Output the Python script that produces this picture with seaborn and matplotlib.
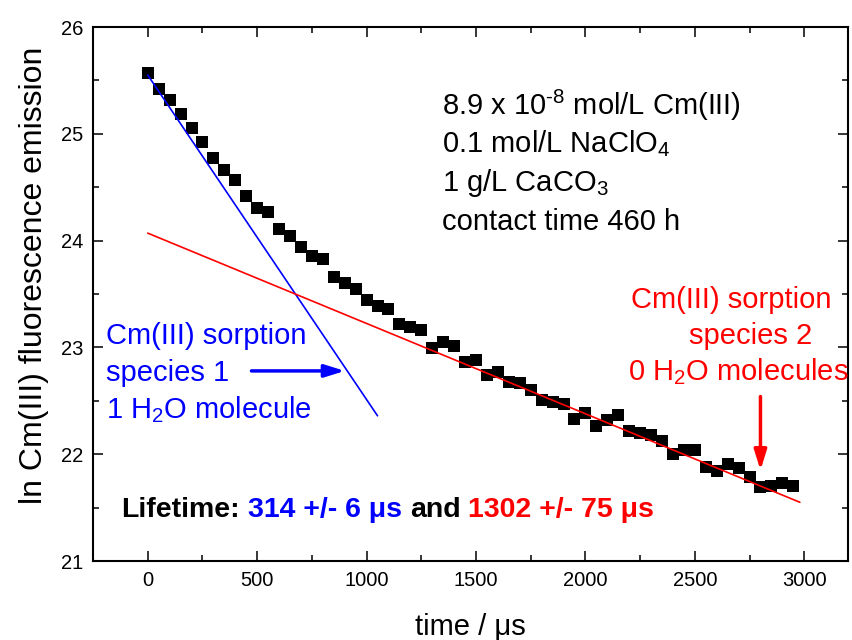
import matplotlib
matplotlib.use("Agg")
import matplotlib.pyplot as plt
import matplotlib.transforms as mtransforms
from matplotlib.ticker import MultipleLocator
import seaborn as sns

# measured decay (time in microseconds, ln of emission intensity)
time_us = [0, 50, 100, 150, 200, 250, 300, 350, 400, 450,
           500, 550, 600, 650, 700, 750, 800, 850, 900, 950,
           1000, 1050, 1100, 1150, 1200, 1250, 1300, 1350, 1400, 1450,
           1500, 1550, 1600, 1650, 1700, 1750, 1800, 1850, 1900, 1950,
           2000, 2050, 2100, 2150, 2200, 2250, 2300, 2350, 2400, 2450,
           2500, 2550, 2600, 2650, 2700, 2750, 2800, 2850, 2900, 2950]
ln_emission = [25.57, 25.42, 25.32, 25.19, 25.05, 24.92, 24.77, 24.66, 24.57, 24.42,
               24.31, 24.27, 24.11, 24.04, 23.94, 23.86, 23.83, 23.66, 23.60, 23.55,
               23.44, 23.39, 23.36, 23.22, 23.19, 23.16, 22.99, 23.05, 23.01, 22.86,
               22.88, 22.74, 22.77, 22.68, 22.67, 22.60, 22.51, 22.49, 22.47, 22.33,
               22.39, 22.26, 22.32, 22.37, 22.22, 22.20, 22.18, 22.12, 22.00, 22.04,
               22.04, 21.88, 21.84, 21.91, 21.87, 21.79, 21.69, 21.70, 21.73, 21.70]

# the two fitted lifetimes
fit1_time = [0, 1050]
fit1_ln = [25.55, 22.36]
fit2_time = [0, 2980]
fit2_ln = [24.07, 21.55]

x_ticks = [0, 500, 1000, 1500, 2000, 2500, 3000]
y_ticks = [21, 22, 23, 24, 25, 26]

info_lines = [r"8.9 x 10$^{\mathregular{\text{-}8}}$ mol/L Cm(III)",
              r"0.1 mol/L NaClO$_{\mathregular{4}}$",
              r"1 g/L CaCO$_{\mathregular{3}}$",
              "contact time 460 h"]
species1_lines = ["Cm(III) sorption", "species 1", r"1 H$_{\mathregular{2}}$O molecule"]
species2_lines = ["Cm(III) sorption", "species 2", r"0 H$_{\mathregular{2}}$O molecules"]
lifetime_parts = ["Lifetime:", "314 +/- 6 \u03bcs", "and", "1302 +/- 75 \u03bcs"]

BLUE = "#0000ff"
RED = "#ff0000"

sns.set_theme(style="ticks")
plt.rcParams["font.family"] = ["Liberation Sans", "DejaVu Sans"]
plt.rcParams["mathtext.fontset"] = "custom"
plt.rcParams["mathtext.rm"] = "Liberation Sans"
plt.rcParams["text.color"] = "black"
plt.rcParams["axes.labelcolor"] = "black"

fig = plt.figure(figsize=(8.52, 6.4), dpi=100)
ax = fig.add_axes([0.1092, 0.1234, 0.8861, 0.8344])

sns.scatterplot(x=time_us, y=ln_emission, marker="s", s=68, color="black",
                linewidth=0, ax=ax, zorder=3)
sns.lineplot(x=fit1_time, y=fit1_ln, color=BLUE, lw=1.2, ax=ax, zorder=4)
sns.lineplot(x=fit2_time, y=fit2_ln, color=RED, lw=1.2, ax=ax, zorder=4)

ax.set_xlim(-250, 3200)
ax.set_ylim(21, 26)
ax.set_xticks(x_ticks)
ax.set_yticks(y_ticks)
ax.xaxis.set_minor_locator(MultipleLocator(250))
ax.yaxis.set_minor_locator(MultipleLocator(0.5))
ax.tick_params(which="both", direction="in", top=True, right=True,
               colors="black", width=1.1)
ax.tick_params(which="major", length=7, labelsize=14.5, pad=7)
ax.tick_params(which="minor", length=4)
for sp in ax.spines.values():
    sp.set_linewidth(1.5)
    sp.set_color("black")

ax.set_xlabel("time / \u03bcs", fontsize=21)
ax.set_ylabel("ln Cm(III) fluorescence emission", fontsize=23)
ax.xaxis.set_label_coords(0.5, -0.097)
ax.yaxis.set_label_coords(-0.058, 0.535)

# sample description
for line, y in zip(info_lines, [25.18, 24.83, 24.465, 24.10]):
    ax.text(1344, y, line, fontsize=21, color="black", ha="left", va="baseline")

# species annotations
for line, y in zip(species1_lines, [23.03, 22.69, 22.34]):
    ax.text(-192, y, line, fontsize=21, color=BLUE, ha="left", va="baseline")
for line, x, y in zip(species2_lines, [2666, 2757, 2698], [23.37, 23.03, 22.69]):
    ax.text(x, y, line, fontsize=21, color=RED, ha="center", va="baseline")

arrow = "-|>,head_length=0.8,head_width=0.25"
ax.annotate("", xy=(901, 22.78), xytext=(474, 22.78),
            arrowprops=dict(arrowstyle=arrow, color=BLUE, lw=2.5,
                            mutation_scale=15, shrinkA=0, shrinkB=0))
ax.annotate("", xy=(2800, 21.85), xytext=(2800, 22.54),
            arrowprops=dict(arrowstyle=arrow, color=RED, lw=2.5,
                            mutation_scale=15, shrinkA=0, shrinkB=0))

# lifetime line, pieces in different colours placed one after another
fig.canvas.draw()
renderer = fig.canvas.get_renderer()
x0, y0 = ax.transData.transform((-120, 21.41))
gap = 0.278 * 20.5 * fig.dpi / 72
for part, col in zip(lifetime_parts, ["black", BLUE, "black", RED]):
    t = ax.text(x0, y0, part, fontsize=20.5, fontweight="bold", color=col,
                ha="left", va="baseline", transform=mtransforms.IdentityTransform())
    bb = t.get_window_extent(renderer)
    x0 = bb.x1 + gap

fig.savefig("out.png", dpi=100)
